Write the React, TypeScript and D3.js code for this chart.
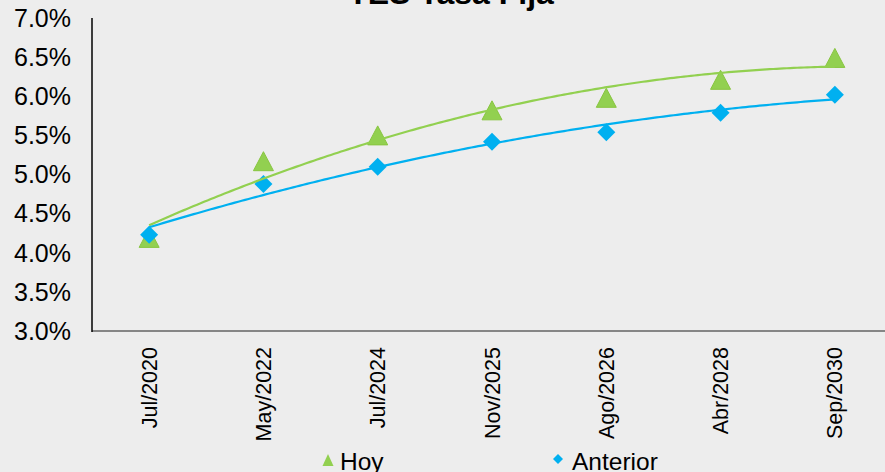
import React from "react";
import * as d3 from "d3";

// Curve dates (bond maturities) and yields in percent
const categories = ["Jul/2020", "May/2022", "Jul/2024", "Nov/2025", "Ago/2026", "Abr/2028", "Sep/2030"];
const hoy = [4.19, 5.17, 5.5, 5.82, 5.98, 6.21, 6.49];
const anterior = [4.23, 4.88, 5.1, 5.42, 5.54, 5.79, 6.02];
const yTicks = [3.0, 3.5, 4.0, 4.5, 5.0, 5.5, 6.0, 6.5, 7.0];

const W = 885;
const H = 472;
const FONT = "'Liberation Sans', Arial, Helvetica, sans-serif";
const GREEN = "#92D050";
const BLUE = "#00B0F0";

// Least-squares 2nd-order polynomial fit over x = 1..n
function quadFit(ys: number[]) {
  const n = ys.length;
  const xs = ys.map((_, i) => i + 1);
  let s0 = n, s1 = 0, s2 = 0, s3 = 0, s4 = 0, t0 = 0, t1 = 0, t2 = 0;
  xs.forEach((x, i) => {
    const y = ys[i];
    s1 += x; s2 += x * x; s3 += x ** 3; s4 += x ** 4;
    t0 += y; t1 += x * y; t2 += x * x * y;
  });
  // Solve normal equations with Cramer's rule
  const det = (m: number[][]) =>
    m[0][0] * (m[1][1] * m[2][2] - m[1][2] * m[2][1]) -
    m[0][1] * (m[1][0] * m[2][2] - m[1][2] * m[2][0]) +
    m[0][2] * (m[1][0] * m[2][1] - m[1][1] * m[2][0]);
  const A = [[s0, s1, s2], [s1, s2, s3], [s2, s3, s4]];
  const B = [t0, t1, t2];
  const D = det(A);
  const coef = [0, 1, 2].map((k) => {
    const M = A.map((row, r) => row.map((v, c) => (c === k ? B[r] : v)));
    return det(M) / D;
  });
  return (x: number) => coef[0] + coef[1] * x + coef[2] * x * x;
}

// Marker shapes centred on their bounding box
const triangle = (w: number, h: number) => `M0,${-h / 2}L${w / 2},${h / 2}L${-w / 2},${h / 2}Z`;
const diamond = (s: number) => `M0,${-s}L${s},0L0,${s}L${-s},0Z`;

export default function App() {
  const left = 92;
  const top = 18;
  const bottom = 331;

  const x = d3.scaleBand<string>().domain(categories).range([left, 892]).paddingInner(0).paddingOuter(0);
  const cx = (c: string) => (x(c) as number) + x.bandwidth() / 2;
  const xi = d3.scaleLinear().domain([1, categories.length]).range([cx(categories[0]), cx(categories[categories.length - 1])]);
  const y = d3.scaleLinear().domain([3, 7]).range([bottom, top]);

  const samples = d3.range(0, 201).map((i) => 1 + (i / 200) * (categories.length - 1));
  const trendPath = (ys: number[]) => {
    const f = quadFit(ys);
    return d3.line<number>().x((t) => xi(t)).y((t) => y(f(t)))(samples) as string;
  };

  return (
    <svg
      width={W}
      height={H}
      style={{ position: "absolute", left: 0, top: 0, display: "block" }}
      fontFamily={FONT}
    >
      <rect x={0} y={0} width={W} height={H} fill="#ededed" />

      <text x={451} y={4} textAnchor="middle" fontSize={32} fontWeight="bold" fill="#000">
        TES Tasa Fija
      </text>

      {/* y axis labels */}
      {yTicks.map((t) => (
        <text key={t} x={71} y={y(t)} dy="0.35em" textAnchor="end" fontSize={25} fill="#000">
          {t.toFixed(1) + "%"}
        </text>
      ))}

      {/* x axis labels */}
      {categories.map((c) => (
        <text
          key={c}
          transform={`translate(${cx(c)},347) rotate(-90)`}
          dy="0.35em"
          textAnchor="end"
          fontSize={21.5}
          fill="#000"
        >
          {c}
        </text>
      ))}

      {/* axes */}
      <line x1={left} x2={W} y1={bottom} y2={bottom} stroke="#868686" strokeWidth={2} />
      <line x1={left} x2={left} y1={top} y2={bottom + 1} stroke="#000" strokeWidth={1.5} />

      {/* markers */}
      {hoy.map((v, i) => (
        <path
          key={"h" + i}
          d={triangle(20, 19)}
          transform={`translate(${cx(categories[i])},${y(v)})`}
          fill={GREEN}
          stroke="#88c540"
          strokeWidth={1}
        />
      ))}
      {anterior.map((v, i) => (
        <path key={"a" + i} d={diamond(9)} transform={`translate(${cx(categories[i])},${y(v)})`} fill={BLUE} />
      ))}

      {/* polynomial trendlines */}
      <path d={trendPath(hoy)} fill="none" stroke={GREEN} strokeWidth={2.2} />
      <path d={trendPath(anterior)} fill="none" stroke={BLUE} strokeWidth={2.2} />

      {/* legend */}
      <path d={triangle(11, 12)} transform="translate(328,460)" fill={GREEN} />
      <text x={340} y={470} fontSize={24.5} fill="#000">Hoy</text>
      <path d={diamond(5)} transform="translate(558,459)" fill={BLUE} />
      <text x={572} y={470} fontSize={24.5} fill="#000">Anterior</text>
    </svg>
  );
}
